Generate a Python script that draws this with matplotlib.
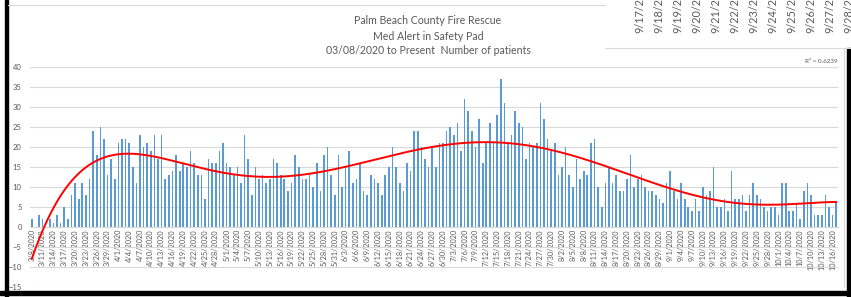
import numpy as np
import pandas as pd
import matplotlib
matplotlib.use('Agg')
import matplotlib.pyplot as plt
from matplotlib.patches import Rectangle
from matplotlib.lines import Line2D

# daily number of patients, starting 03/08/2020
start_date = '2020-03-08'
patients = [2, 0, 3, 2, 0, 2, 1, 3, 1, 5, 2, 8, 11, 7, 11, 8, 12, 24, 18, 25,
            22, 13, 17, 12, 21, 22, 22, 21, 15, 11, 23, 20, 21, 19, 23, 17, 23, 12, 13, 14,
            18, 14, 16, 15, 19, 16, 13, 13, 7, 17, 16, 16, 19, 21, 16, 15, 13, 15, 11, 23,
            17, 8, 15, 12, 13, 11, 12, 17, 16, 13, 12, 9, 11, 18, 15, 12, 12, 13, 10, 16,
            9, 18, 20, 13, 8, 18, 10, 15, 19, 11, 12, 16, 9, 8, 13, 12, 11, 8, 13, 15,
            20, 15, 11, 9, 16, 14, 24, 24, 20, 17, 15, 20, 15, 21, 21, 24, 25, 23, 26, 19,
            32, 29, 24, 20, 27, 16, 21, 26, 21, 28, 37, 31, 21, 23, 29, 26, 25, 17, 21, 20,
            21, 31, 27, 22, 19, 21, 13, 15, 20, 13, 10, 17, 12, 14, 13, 21, 22, 10, 5, 11,
            15, 11, 13, 9, 9, 12, 18, 10, 12, 13, 10, 9, 9, 8, 7, 6, 11, 14, 9, 7,
            11, 7, 5, 4, 7, 4, 10, 8, 9, 15, 5, 5, 7, 4, 14, 7, 7, 8, 4, 8,
            11, 8, 7, 5, 4, 5, 5, 3, 11, 11, 4, 4, 6, 2, 9, 11, 8, 3, 3, 3,
            8, 5, 3, 6]
title_lines = ['Palm Beach County Fire Rescue', 'Med Alert in Safety Pad',
               '03/08/2020 to Present  Number of patients']
r2_label = 'R\u00b2 = 0.6239'
# labels of the neighbouring chart peeking in at the top right (cut off by the screenshot)
other_labels = ['9/17/2020', '9/18/2020', '9/19/2020', '9/20/2020', '9/21/2020', '9/22/2020',
                '9/23/2020', '9/24/2020', '9/25/2020', '9/26/2020', '9/27/2020', '9/28/2020']

dates = pd.date_range(start_date, periods=len(patients))
date_labels = ['{}/{}/{}'.format(d.month, d.day, d.year) for d in dates]

W, H = 851, 297
plt.rcParams['font.family'] = ['Lato', 'DejaVu Sans']
text_gray = '#595959'
grid_gray = '#D9D9D9'

fig = plt.figure(figsize=(W / 100, H / 100), dpi=100)
fig.patch.set_facecolor('white')

# main plot area
ax = fig.add_axes([30 / W, (H - 287) / H, 808 / W, 220 / H])
ax.set_facecolor('none')
x = np.arange(len(patients))
y = np.array(patients, dtype=float)
ax.bar(x, y, width=0.45, color='#5B9BD5', zorder=2)

# 6th order polynomial trendline (excel uses 1..n on a category axis)
poly = np.polynomial.Polynomial.fit(x + 1, y, 6)
xs = np.linspace(1, len(patients), 800)
ax.plot(xs - 1, poly(xs), color='#FF0000', lw=1.4, zorder=3)

ax.set_xlim(-0.5, len(patients) - 0.5)
ax.set_ylim(-15, 40)
ax.set_yticks(np.arange(-15, 41, 5))
ax.yaxis.grid(True, color=grid_gray, lw=0.8, zorder=0)
ax.set_axisbelow(True)
for side in ['top', 'right', 'left']:
    ax.spines[side].set_visible(False)
ax.spines['bottom'].set_position(('data', 0))
ax.spines['bottom'].set_color(grid_gray)
ax.spines['bottom'].set_linewidth(0.8)
ax.set_xticks(x[::3])
ax.set_xticklabels(date_labels[::3], rotation=90, fontsize=5.3, color=text_gray)
ax.tick_params(axis='x', length=0, pad=1.5)
ax.tick_params(axis='y', length=0, pad=6, labelsize=5.5, labelcolor=text_gray)

for k, line in enumerate(title_lines):
    fig.text(428 / W, 1 - (21 + 15 * k) / H, line, ha='center', va='center',
             fontsize=7.6, color=text_gray)
fig.text(838 / W, 1 - 61 / H, r2_label, ha='right', va='center', fontsize=4.5, color=text_gray)

# screenshot frame
deco = fig.add_axes([0, 0, 1, 1], zorder=5)
deco.set_xlim(0, W)
deco.set_ylim(H, 0)
deco.axis('off')
deco.patch.set_alpha(0)
deco.add_patch(Rectangle((5, 0), 3, H, color='black'))
deco.add_patch(Rectangle((0, 291), W, 4, color='black'))
deco.add_patch(Rectangle((847, 48), 3, H - 48, color='black'))
deco.add_line(Line2D([8, 605], [5, 5], color=grid_gray, lw=0.8))
deco.add_line(Line2D([605, W], [48, 48], color=grid_gray, lw=0.8))
deco.add_line(Line2D([844, 844], [48, 287], color=grid_gray, lw=0.8))
for k, lab in enumerate(other_labels):
    deco.text(640 + 19 * k, 33, lab, rotation=90, ha='center', va='bottom',
              fontsize=7.8, color=text_gray)

fig.savefig('out.png', dpi=100)
